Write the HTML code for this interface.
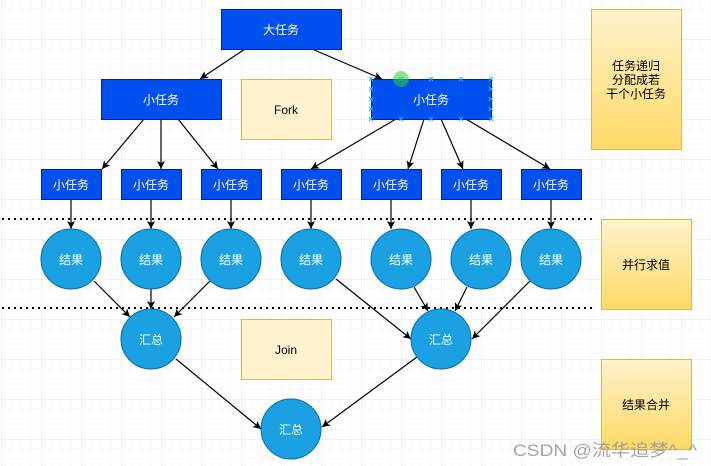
<!DOCTYPE html>
<html><head><meta charset="utf-8"><style>
html,body{margin:0;padding:0;background:#fff;}
svg{display:block;font-family:"Liberation Sans","Noto Sans CJK SC",sans-serif;}
</style></head><body>
<svg width="711" height="466" viewBox="0 0 711 466" xmlns="http://www.w3.org/2000/svg">
<defs>
<pattern id="g" x="1" y="-1" width="40" height="40" patternUnits="userSpaceOnUse">
<path d="M0 0H40M0 0V40" stroke="#e3e3e3" stroke-width="1" fill="none"/>
<path d="M0 10H40M0 20H40M0 30H40M10 0V40M20 0V40M30 0V40" stroke="#f4f4f4" stroke-width="1" fill="none"/>
</pattern>
<linearGradient id="y" x1="0" y1="0" x2="0" y2="1"><stop offset="0" stop-color="#fff2cc"/><stop offset="1" stop-color="#ffd966"/></linearGradient>
<marker id="a" markerWidth="10" markerHeight="10" refX="9" refY="5" orient="auto" markerUnits="userSpaceOnUse"><path d="M1 1L9 5L1 9L3 5Z" fill="#000"/></marker>
</defs>
<rect width="711" height="466" fill="#fff"/>
<rect width="711" height="466" fill="url(#g)"/>
<g stroke="#000" stroke-dasharray="2 4" stroke-width="2"><line x1="2" y1="219" x2="592" y2="219"/><line x1="2" y1="308" x2="592" y2="308"/></g>
<g stroke="#000" stroke-width="1.2" fill="none" marker-end="url(#a)">
<line x1="245" y1="49" x2="200" y2="79"/><line x1="312" y1="49" x2="382" y2="79"/>
<line x1="144" y1="119" x2="102" y2="169"/><line x1="161" y1="119" x2="161" y2="169"/><line x1="178" y1="119" x2="218" y2="169"/>
<line x1="396" y1="119" x2="311" y2="169"/><line x1="424" y1="119" x2="408" y2="169"/><line x1="441" y1="119" x2="463" y2="169"/><line x1="466" y1="119" x2="550" y2="169"/>
<line x1="71" y1="199" x2="71" y2="229"/><line x1="151" y1="199" x2="151" y2="229"/><line x1="231" y1="199" x2="231" y2="229"/><line x1="311" y1="199" x2="311" y2="229"/><line x1="391" y1="199" x2="391" y2="229"/><line x1="471" y1="199" x2="471" y2="229"/><line x1="551" y1="199" x2="551" y2="229"/>
<line x1="94" y1="281" x2="130" y2="317"/><line x1="151" y1="289" x2="151" y2="309"/><line x1="210" y1="281" x2="174" y2="317"/>
<line x1="336" y1="279" x2="411" y2="339"/><line x1="414" y1="287" x2="428" y2="311"/><line x1="467" y1="287" x2="455" y2="311"/><line x1="530" y1="281" x2="472" y2="339"/>
<line x1="176" y1="359" x2="261" y2="429"/><line x1="417" y1="357" x2="322" y2="427"/>
</g>
<g fill="#0050ef" stroke="#001dbc">
<rect x="221.5" y="9.5" width="120" height="40"/><rect x="101.5" y="79.5" width="120" height="40"/><rect x="371.5" y="79.5" width="120" height="40"/>
<rect x="41.5" y="169.5" width="60" height="30"/><rect x="121.5" y="169.5" width="60" height="30"/><rect x="201.5" y="169.5" width="60" height="30"/><rect x="281.5" y="169.5" width="60" height="30"/><rect x="361.5" y="169.5" width="60" height="30"/><rect x="441.5" y="169.5" width="60" height="30"/><rect x="521.5" y="169.5" width="60" height="30"/>
</g>
<g stroke="#29b6f2" stroke-width="1" font-size="0">
<path d="M369 77l4 4M373 77l-4 4M399 77l4 4M403 77l-4 4M429 77l4 4M433 77l-4 4M459 77l4 4M463 77l-4 4M489 77l4 4M493 77l-4 4"/>
<path d="M369 117l4 4M373 117l-4 4M399 117l4 4M403 117l-4 4M429 117l4 4M433 117l-4 4M459 117l4 4M463 117l-4 4M489 117l4 4M493 117l-4 4"/>
<path d="M369 87l4 4M373 87l-4 4M369 97l4 4M373 97l-4 4M369 107l4 4M373 107l-4 4M489 87l4 4M493 87l-4 4M489 97l4 4M493 97l-4 4M489 107l4 4M493 107l-4 4"/>
</g>
<circle cx="401" cy="79" r="8" fill="#3c3" opacity="0.55"/>
<g fill="#1ba1e2" stroke="#006eaf">
<circle cx="71" cy="259" r="30"/><circle cx="151" cy="259" r="30"/><circle cx="231" cy="259" r="30"/><circle cx="311" cy="259" r="30"/><circle cx="401" cy="259" r="30"/><circle cx="481" cy="259" r="30"/><circle cx="551" cy="259" r="30"/>
<circle cx="151" cy="339" r="30"/><circle cx="441" cy="339" r="30"/><circle cx="291" cy="429" r="30"/>
</g>
<rect x="241.5" y="79.5" width="90" height="60" fill="#fff2cc" stroke="#d6b656"/>
<rect x="241.5" y="319.5" width="90" height="60" fill="#fff2cc" stroke="#d6b656"/>
<g fill="url(#y)" stroke="#d6b656">
<rect x="591.5" y="9.5" width="90" height="140"/><rect x="601.5" y="219.5" width="90" height="90"/><rect x="601.5" y="359.5" width="90" height="90"/>
</g>
<g fill="#fff" font-size="12" text-anchor="middle">
<text x="281" y="34">大任务</text><text x="161" y="104">小任务</text><text x="431" y="104">小任务</text>
<text x="71" y="189">小任务</text><text x="151" y="189">小任务</text><text x="231" y="189">小任务</text><text x="311" y="189">小任务</text><text x="391" y="189">小任务</text><text x="471" y="189">小任务</text><text x="551" y="189">小任务</text>
<text x="71" y="264">结果</text><text x="151" y="264">结果</text><text x="231" y="264">结果</text><text x="311" y="264">结果</text><text x="401" y="264">结果</text><text x="481" y="264">结果</text><text x="551" y="264">结果</text>
<text x="151" y="344">汇总</text><text x="441" y="344">汇总</text><text x="291" y="434">汇总</text>
</g>
<g fill="#000" font-size="12" text-anchor="middle">
<text x="286" y="114">Fork</text><text x="286" y="354">Join</text>
<text x="636" y="70">任务递归</text><text x="636" y="84">分配成若</text><text x="636" y="98">干个小任务</text>
<text x="646" y="269">并行求值</text><text x="646" y="409">结果合并</text>
</g>
<text x="513" y="456" font-size="17" fill="#9a9a9a" opacity="0.9" textLength="184" lengthAdjust="spacingAndGlyphs">CSDN @流华追梦^_^</text>
</svg>
</body></html>
